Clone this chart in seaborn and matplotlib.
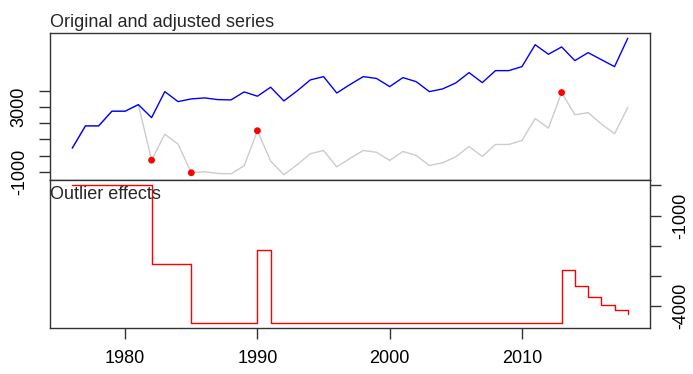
import numpy as np
import pandas as pd
import seaborn as sns
import matplotlib.pyplot as plt

# data
years = list(range(1976, 2019))
adjusted = [457, 1827, 1827, 2731, 2731, 3136, 2337, 3935, 3321, 3487,
            3548, 3444, 3425, 3917, 3653, 4206, 3364, 3978, 4655, 4857,
            3850, 4370, 4857, 4747, 4243, 4796, 4550, 3935, 4101, 4470,
            5103, 4489, 5226, 5226, 5472, 6820, 6234, 6683, 5841, 6333,
            5902, 5472, 7218]
original = [457, 1827, 1827, 2731, 2731, 3136, -280, 1318, 704, -1054,
            -993, -1097, -1116, -624, 1531, -335, -1177, -563, 114, 316,
            -691, -171, 316, 206, -298, 255, 9, -606, -440, -71,
            562, -52, 685, 685, 931, 2279, 1693, 3878, 2511, 2643,
            1952, 1342, 2968]
effects = [0, 0, 0, 0, 0, 0, -2617, -2617, -2617, -4541,
           -4541, -4541, -4541, -4541, -2122, -4541, -4541, -4541, -4541, -4541,
           -4541, -4541, -4541, -4541, -4541, -4541, -4541, -4541, -4541, -4541,
           -4541, -4541, -4541, -4541, -4541, -4541, -4541, -2805, -3330, -3690,
           -3950, -4130, -4250]
outlier_years = [1982, 1985, 1990, 2013]
outlier_values = [-280, -1054, 1531, 3878]

top_ticks = [-1000, 0, 1000, 2000, 3000, 4000]
top_labels = ['-1000', '', '', '', '3000', '']
bottom_ticks = [0, -1000, -2000, -3000, -4000]
bottom_labels = ['', '-1000', '', '', '-4000']
x_ticks = [1980, 1990, 2000, 2010]

df = pd.DataFrame({'year': years, 'adjusted': adjusted,
                   'original': original, 'effects': effects})
out = pd.DataFrame({'year': outlier_years, 'value': outlier_values})

sns.set_theme(style='ticks')
plt.rcParams['font.family'] = ['Liberation Sans', 'DejaVu Sans']
plt.rcParams['axes.edgecolor'] = '#333333'
plt.rcParams['axes.linewidth'] = 1.0

fig = plt.figure(figsize=(6.93, 3.74), dpi=100)
ax1 = fig.add_axes([50 / 693, 1 - 180 / 374, 600 / 693, 147 / 374])
ax2 = fig.add_axes([50 / 693, 1 - 328 / 374, 600 / 693, 148 / 374])

# top panel: original (grey), adjusted (blue), outliers (red)
sns.lineplot(data=df, x='year', y='original', color='#cccccc', lw=1.0,
             estimator=None, ax=ax1)
sns.lineplot(data=df, x='year', y='adjusted', color='#0000ff', lw=1.0,
             estimator=None, ax=ax1)
sns.scatterplot(data=out, x='year', y='value', color='#ff0000', s=24,
                edgecolor='none', zorder=5, ax=ax1)
ax1.set_xlim(1974.32, 2019.68)
ax1.set_ylim(-1500, 7540)
ax1.set_yticks(top_ticks)
ax1.set_yticklabels(top_labels, rotation=90, va='center', fontsize=13)
ax1.tick_params(axis='y', length=8, width=1, pad=8, colors='#333333',
                labelcolor='black')
ax1.tick_params(axis='x', bottom=False, labelbottom=False)
ax1.set_xlabel('')
ax1.set_ylabel('')
ax1.annotate('Original and adjusted series', xy=(0, 1), xycoords='axes fraction',
             xytext=(0, 4.5), textcoords='offset points', ha='left',
             va='baseline', fontsize=13)

# bottom panel: outlier effects as steps
sns.lineplot(data=df, x='year', y='effects', color='#ff0000', lw=1.0,
             estimator=None, drawstyle='steps-post', ax=ax2)
ax2.set_xlim(1974.32, 2019.68)
ax2.set_ylim(-4723, 182)
ax2.yaxis.tick_right()
ax2.set_yticks(bottom_ticks)
ax2.set_yticklabels(bottom_labels, rotation=90, va='center', fontsize=13)
ax2.tick_params(axis='y', length=8, width=1, pad=8, colors='#333333',
                labelcolor='black')
ax2.set_xticks(x_ticks)
ax2.set_xticklabels([str(t) for t in x_ticks], fontsize=13)
ax2.tick_params(axis='x', length=8, width=1, pad=8, colors='#333333',
                labelcolor='black')
ax2.set_xlabel('')
ax2.set_ylabel('')
ax2.annotate('Outlier effects', xy=(0, 1), xycoords='axes fraction',
             xytext=(0, -4), textcoords='offset points', ha='left',
             va='top', fontsize=13)

fig.savefig('out.png', dpi=100)
